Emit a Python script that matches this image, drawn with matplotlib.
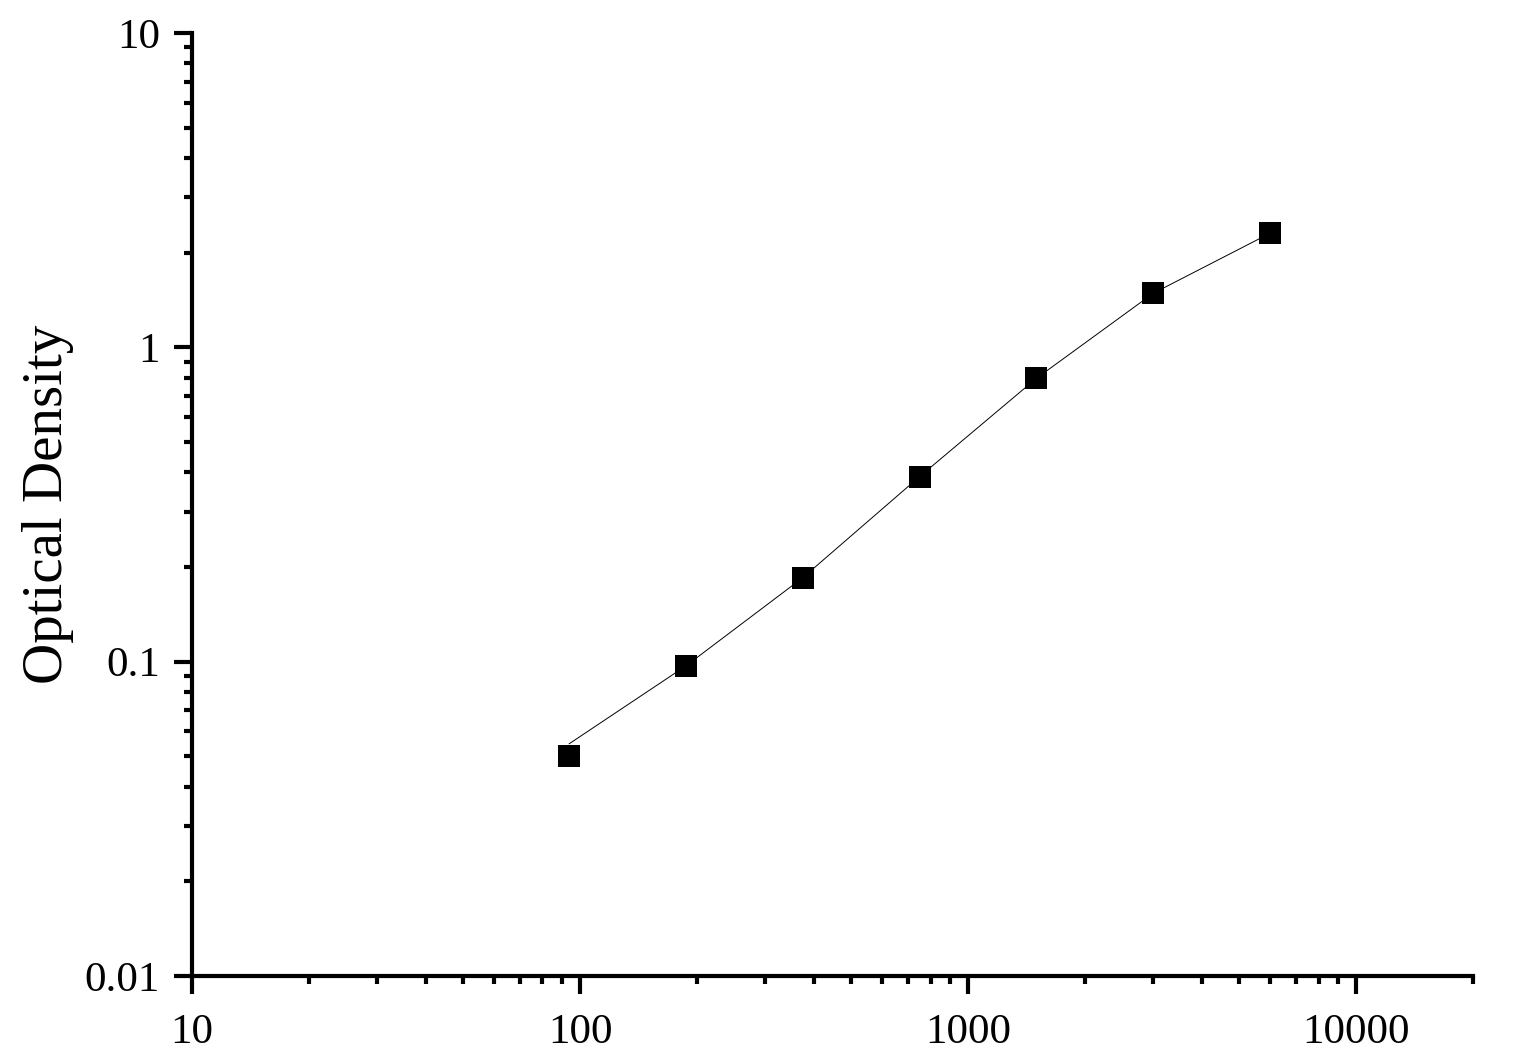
import matplotlib
matplotlib.use("Agg")
import matplotlib.pyplot as plt
from matplotlib.ticker import LogLocator, FixedLocator, FixedFormatter, NullFormatter

# standard concentrations (pg/mL) and measured OD
conc = [93.75, 187.5, 375, 750, 1500, 3000, 6000]
od = [0.050, 0.097, 0.185, 0.388, 0.797, 1.486, 2.307]
# fitted curve values at the same concentrations
fit_od = [0.0548, 0.097, 0.185, 0.388, 0.797, 1.486, 2.307]

x_ticks = [10, 100, 1000, 10000]
x_labels = ['10', '100', '1000', '10000']
y_ticks = [0.01, 0.1, 1, 10]
y_labels = ['0.01', '0.1', '1', '10']

plt.rcParams['font.family'] = ['Liberation Serif', 'DejaVu Serif']

fig = plt.figure(figsize=(15.33, 10.62), dpi=100)
ax = fig.add_axes([192 / 1533, 1 - 976 / 1062, (1473 - 192) / 1533, (976 - 33) / 1062])

ax.plot(conc, fit_od, color='black', linewidth=0.7, zorder=2)
ax.plot(conc, od, linestyle='none', marker='s', markersize=16,
        markerfacecolor='black', markeredgewidth=0, zorder=3)

ax.set_xscale('log')
ax.set_yscale('log')
ax.set_xlim(10, 20000)
ax.set_ylim(0.01, 10)

ax.xaxis.set_major_locator(FixedLocator(x_ticks))
ax.xaxis.set_major_formatter(FixedFormatter(x_labels))
ax.xaxis.set_minor_locator(LogLocator(base=10, subs=range(2, 10), numticks=20))
ax.xaxis.set_minor_formatter(NullFormatter())
ax.yaxis.set_major_locator(FixedLocator(y_ticks))
ax.yaxis.set_major_formatter(FixedFormatter(y_labels))
ax.yaxis.set_minor_locator(LogLocator(base=10, subs=range(2, 10), numticks=20))
ax.yaxis.set_minor_formatter(NullFormatter())

for side in ['top', 'right']:
    ax.spines[side].set_visible(False)
for side in ['left', 'bottom']:
    ax.spines[side].set_linewidth(3)

ax.tick_params(which='major', direction='out', length=13, width=3,
               labelsize=31, pad=10)
ax.tick_params(axis='x', which='major', pad=14)
ax.tick_params(which='minor', direction='out', length=6, width=3)

ax.set_ylabel('Optical Density', fontsize=41, labelpad=8)

fig.savefig('out.png', dpi=100)
